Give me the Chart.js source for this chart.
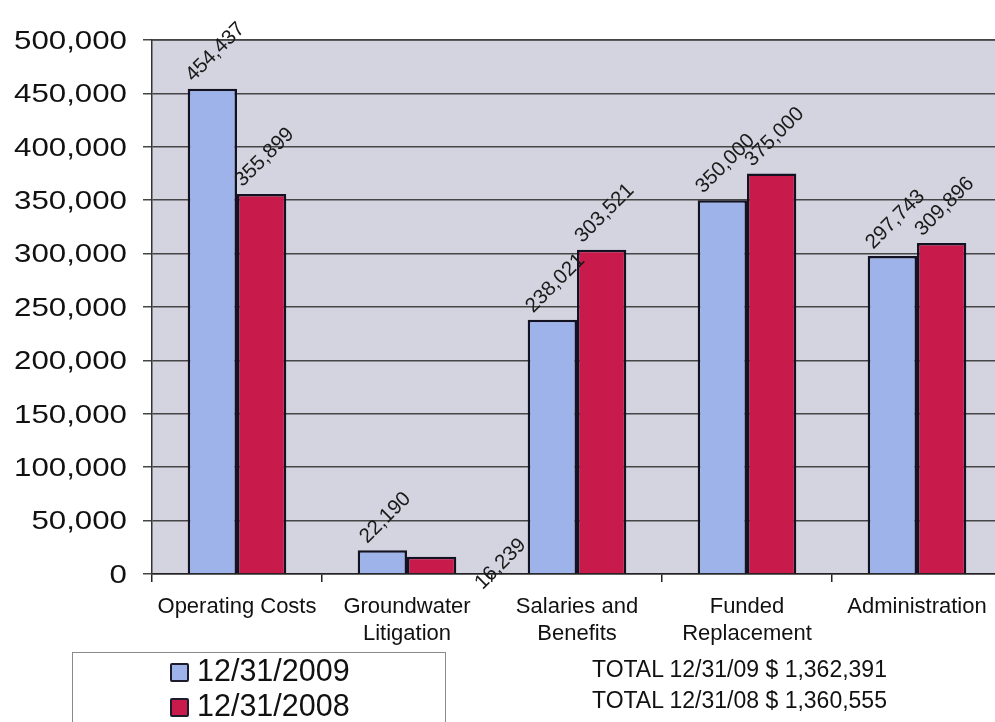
<!DOCTYPE html>
<html>
<head>
<meta charset="utf-8">
<script src="https://cdn.jsdelivr.net/npm/chart.js@4.4.0/dist/chart.umd.min.js"></script>
<style>
  html, body { margin: 0; padding: 0; background: #fff; overflow: hidden; }
  #wrap { position: relative; width: 995px; height: 722px; overflow: hidden; }
  #chart { position: absolute; left: 0; top: 0; }
  #legend {
    position: absolute; left: 72px; top: 652px; width: 374px; height: 90px;
    border: 1.5px solid #8a8a8a; box-sizing: border-box;
    font-family: "Liberation Sans", Arial, sans-serif; font-size: 30.5px; color: #111;
  }
  .item { position: absolute; left: 97px; height: 34px; line-height: 34px; white-space: nowrap; }
  .swatch {
    display: inline-block; width: 15px; height: 15px; border: 2px solid #1c1c2c;
    border-radius: 2px; margin-right: 8px; vertical-align: -1px;
  }
  #totals {
    position: absolute; left: 592px; top: 654px;
    font-family: "Liberation Sans", Arial, sans-serif; font-size: 23px; color: #111;
    line-height: 31px; white-space: nowrap;
  }
</style>
</head>
<body>
<div id="wrap">
  <canvas id="chart" width="1010" height="660"></canvas>
  <div id="legend"></div>
  <div id="totals"></div>
</div>
<script>
// 費目と各年末の金額
const categories = [
  ['Operating Costs'],
  ['Groundwater', 'Litigation'],
  ['Salaries and', 'Benefits'],
  ['Funded', 'Replacement'],
  ['Administration']
];
const seriesLabels = ['12/31/2009', '12/31/2008'];
const totalLabels = ['TOTAL 12/31/09', 'TOTAL 12/31/08'];
const values2009 = [454437, 22190, 238021, 350000, 297743];
const values2008 = [355899, 16239, 303521, 375000, 309896];
const yTicks = [0, 50000, 100000, 150000, 200000, 250000, 300000, 350000, 400000, 450000, 500000];

const colors = ['#9db3ea', '#c81a4b'];
const fmt = v => v.toLocaleString('en-US');

// プロット領域の背景
const plotBg = {
  id: 'plotBg',
  beforeDraw(chart) {
    const { ctx, chartArea: a } = chart;
    ctx.save();
    ctx.fillStyle = '#d4d4e0';
    ctx.fillRect(a.left, a.top, a.right - a.left, a.bottom - a.top);
    ctx.strokeStyle = '#555';
    ctx.lineWidth = 1.5;
    ctx.beginPath();
    ctx.moveTo(a.left, a.top);
    ctx.lineTo(a.right, a.top);
    ctx.stroke();
    ctx.restore();
  }
};

// 縦軸の目盛ラベル（横長のフォントで描く）
const yLabels = {
  id: 'yLabels',
  afterDraw(chart) {
    const { ctx } = chart;
    const y = chart.scales.y;
    ctx.save();
    ctx.font = '25px "Liberation Sans", Arial, sans-serif';
    ctx.fillStyle = '#111';
    ctx.textAlign = 'right';
    ctx.textBaseline = 'middle';
    y.ticks.forEach(t => {
      const py = y.getPixelForValue(t.value);
      ctx.save();
      ctx.translate(127, py + 2);
      ctx.scale(1.25, 1);
      ctx.fillText(fmt(t.value), 0, 0);
      ctx.restore();
    });
    ctx.restore();
  }
};

// 棒の上に斜め45度で値を表示
const barValues = {
  id: 'barValues',
  afterDatasetsDraw(chart, args, opts) {
    const { ctx } = chart;
    ctx.save();
    ctx.font = '20.5px "Liberation Sans", Arial, sans-serif';
    ctx.fillStyle = '#1a1a1a';
    ctx.textAlign = 'center';
    ctx.textBaseline = 'middle';
    chart.data.datasets.forEach((ds, di) => {
      chart.getDatasetMeta(di).data.forEach((bar, i) => {
        const text = fmt(ds.data[i]);
        const w = ctx.measureText(text).width;
        const h = 15;
        let cx = bar.x + 3;
        let cy = bar.y - 5 - (w + h) * 0.707 / 2;
        const nudge = (opts.nudge || {})[di + '-' + i];
        if (nudge) { cx += nudge[0]; cy += nudge[1]; }
        ctx.save();
        ctx.translate(cx, cy);
        ctx.rotate(-Math.PI / 4);
        ctx.fillText(text, 0, 0);
        ctx.restore();
      });
    });
    ctx.restore();
  }
};

new Chart(document.getElementById('chart'), {
  type: 'bar',
  data: {
    labels: categories,
    datasets: [
      { label: seriesLabels[0], data: values2009, backgroundColor: colors[0] },
      { label: seriesLabels[1], data: values2008, backgroundColor: colors[1] }
    ].map(d => Object.assign(d, {
      borderColor: '#121222',
      borderWidth: 2.5,
      borderSkipped: 'bottom',
      categoryPercentage: 0.58,
      barPercentage: 1.0
    }))
  },
  options: {
    responsive: false,
    animation: false,
    layout: { padding: { top: 40, right: 8, left: 0, bottom: 0 } },
    plugins: {
      legend: { display: false },
      tooltip: { enabled: false },
      barValues: { nudge: { '1-1': [66, 40] } }
    },
    scales: {
      x: {
        offset: true,
        grid: {
          offset: true, drawOnChartArea: false, drawTicks: true,
          tickLength: 8, color: '#222', lineWidth: 1.5
        },
        border: { display: true, color: '#222', width: 1.5 },
        ticks: {
          color: '#111', padding: 11, maxRotation: 0, autoSkip: false,
          font: { family: '"Liberation Sans", Arial, sans-serif', size: 22, lineHeight: 1.25 }
        },
        afterFit(scale) { scale.height = 86; }
      },
      y: {
        min: 0, max: 500000,
        afterBuildTicks(scale) { scale.ticks = yTicks.map(v => ({ value: v })); },
        grid: { color: '#454545', lineWidth: 1.5, tickLength: 9, drawTicks: true },
        border: { display: true, color: '#333', width: 1.5 },
        ticks: { display: false },
        afterFit(scale) { scale.width = 152; }
      }
    }
  },
  plugins: [plotBg, yLabels, barValues]
});

// 凡例と合計
const legend = document.getElementById('legend');
seriesLabels.forEach((s, i) => {
  const row = document.createElement('div');
  row.className = 'item';
  row.style.top = (0 + i * 35) + 'px';
  row.innerHTML = '<span class="swatch" style="background:' + colors[i] + '"></span>' + s;
  legend.appendChild(row);
});
const sum = a => a.reduce((p, c) => p + c, 0);
document.getElementById('totals').innerHTML =
  totalLabels[0] + ' $ ' + fmt(sum(values2009)) + '<br>' +
  totalLabels[1] + ' $ ' + fmt(sum(values2008));
</script>
</body>
</html>
